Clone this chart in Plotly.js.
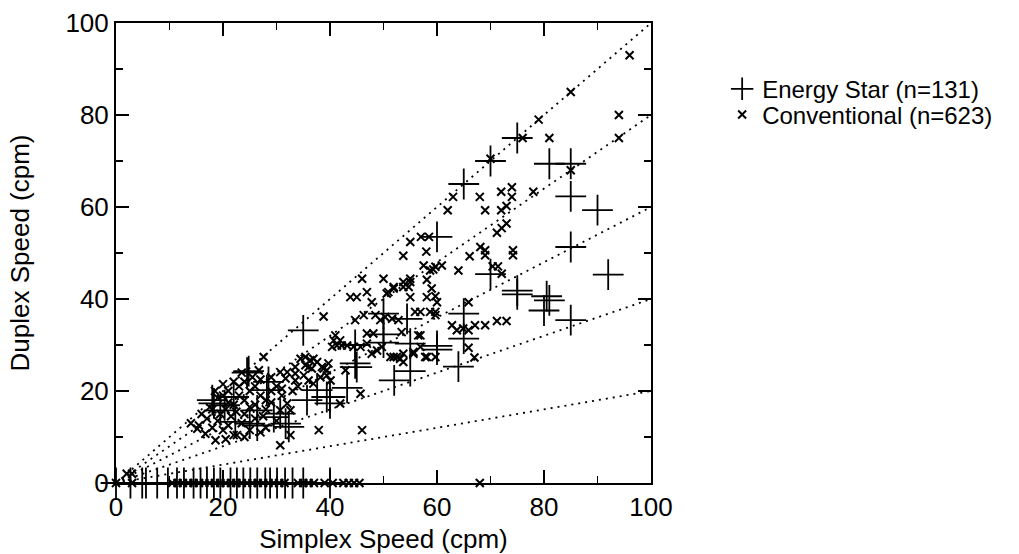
<!DOCTYPE html>
<html>
<head>
<meta charset="utf-8">
<script src="https://cdn.plot.ly/plotly-3.0.1.min.js"></script>
<style>html,body{margin:0;padding:0;background:#fff;}#chart{width:1019px;height:554px;}</style>
</head>
<body>
<div id="chart"></div>
<script>
// Reference ratio lines (duplex / simplex)
const ratioLines = [1.0, 0.8, 0.6, 0.4, 0.2];
const lineX = [0, 100];

// Energy Star printers (simplex cpm, duplex cpm)
const esSimplex = [75,70,65,60,81,85,85,90,85,92,70,75,75,80.5,81,80,85,65,65,64,60,60,55,54.4,55,52,50,50,50,44.7,44.7,45,43.2,40,40,35,35.7,37.6,39.4,31.7,30.7,29.5,28.5,28.2,26.4,26.4,25,24.8,24.5,22,22.3,20.3,19.5,18,18.3,32.3,
  0,2.7,4.9,5.6,7.7,9.7,11.4,12.7,14.5,15.8,17,18.3,19.5,21.4,22.6,23.8,25.1,26.4,27.9,28.8,30.1,31.6,33,35,40];
const esDuplex = [75,70,65,53.5,69.4,69.4,62.3,59.3,51.3,45.3,45.4,41.8,41,40.6,39.7,37.5,35.4,36.8,31.4,25.3,29.8,29,30.3,35.7,24.3,22.3,36.8,32.3,30.5,30,26,25.2,20.7,18.7,17.3,33.2,18,20.2,18.7,12.9,15.1,14.3,22,20.2,15.8,12.5,12.9,24.3,24,18.7,13.3,16.9,15.8,18,17.3,12.2,
  0,0,0,0,0,0,0,0,0,0,0,0,0,0,0,0,0,0,0,0,0,0,0,0,0];

// Conventional printers (simplex cpm, duplex cpm)
const convSimplex = [96,85,79,76,81,70,85,63,62,68,69,72,74,74,72,73,78,94,94,
  55,57,58.5,53.7,58,71.2,72.1,73,68.1,69,69,66.1,74.2,74.2,
  57.5,58.7,59.7,60.9,59.3,64,70.4,71.4,72.1,
  50,51.9,53.7,55,55,58.1,58.1,59,59.7,60,65.9,59.7,
  55.9,56.9,58.7,59.7,
  62.8,63.7,64.9,65.9,67.1,69,71.2,73,
  56.9,55.6,56.9,58.1,59.7,51.9,53.1,53.7,65.9,67,
  46,53.7,55,54.7,51.9,50.9,43.8,45,46.9,47.8,50.6,
  38.8,44.7,46.3,48.5,49.4,50.3,51.6,52.8,
  53.4,56.5,
  40.7,40.4,41.3,42.2,43.2,44.4,45.7,41,41.9,
  46.9,46.9,47.8,48.8,49.7,48.1,
  51.3,52.5,53.7,55.6,57.8,
  35.4,36.9,36,38.5,39.7,39.4,38.2,40.1,36.9,42.9,45.7,41.9,
  27.6,26.7,
  34.5,36.3,37.6,35.4,33.5,36.6,38.8,32,33.5,35.1,30.7,31.7,33.5,36,39.4,
  32.6,37.9,46,30.7,32,30.7,32.6,
  15.2,16.7,18.6,22,22.6,15.5,17,18,19,20,21,19.5,20.5,21.5,22.5,23.5,24,22,23,24,25,26,27,28,29,30,24,25.5,27,21,20,19,17.5,16,18.5,20,22,23.5,26,28,29,31,30,28,27,25,24,20.5,14,18,21,26,27.5,29,31,33,34,25,23,
  2,3,
  0,3,10.5,11.5,12.5,13.5,14.5,15.5,16.5,17.5,18.5,19.5,20.5,21.5,22.5,23.5,24.5,25.5,26.5,27.5,28.5,29.5,30.5,31.5,34,35,36,37,39,40.5,42.5,43.5,44.5,45.5,68];
const convDuplex = [93,85,79,75,75,70.5,68,62.2,59.3,62.2,59.3,63.3,64.3,62.2,59.3,60.2,63.3,80,75,
  52.4,53.5,53.5,49.4,50.3,54.4,55.4,56.4,51.3,50.6,49.5,49.3,50.6,49.5,
  47.3,46.2,47,47.3,46.4,46.2,47.1,47.1,45.5,
  44.4,42.3,42.6,43.7,40.4,44.2,40.4,42.3,40.6,39.3,39.3,37.2,
  37.2,37.2,37.2,36.5,
  34.3,33.2,33.6,33.2,34.3,34.3,35.2,35.2,
  32.1,28.5,29.6,27.4,27.4,27.4,27,26.3,29.4,27.3,
  44.4,43.7,44.4,42.6,42.6,41.5,40.4,40.4,41.5,39.3,41.2,
  36.2,35.4,36.5,36.5,35.4,36.1,35.7,35.4,
  32.8,32.1,
  31,29.6,29.9,29.9,29.9,29.6,29.6,32.1,31,
  32.5,30.3,28.1,28.8,29.6,32.5,
  27.4,27.4,28.1,28.1,27.4,
  27.4,27,25.2,25.2,26,24.5,23,22.3,21.6,24.5,19.4,17.3,
  27.4,24.5,
  27,26.7,26.3,25.6,25.2,24.9,24.9,24.1,23.8,23.4,24.1,22.7,22.3,22.3,23.4,
  10.4,11.5,11.5,8.2,17.3,15.8,15.8,
  11.8,10.7,9.3,10.4,10.4,12.5,14,12,13.5,11.5,12.5,15,16,14.5,15.5,13,15,17,19,18,20,21,19,18,20,21,22,23,22.5,20,19,18.5,16.5,15,20,21.5,22,24,17,16,17.5,19,13.5,12,11,11.5,10,9.5,13,16,17.5,14,14.5,23,20.5,20,21,16.5,21,
  2,2,
  0,0,0,0,0,0,0,0,0,0,0,0,0,0,0,0,0,0,0,0,0,0,0,0,0,0,0,0,0,0,0,0,0,0,0];

const legendNames = ['Energy Star (n=131)', 'Conventional (n=623)'];
const xTitle = 'Simplex Speed (cpm)';
const yTitle = 'Duplex Speed (cpm)';
const tickValues = [0, 20, 40, 60, 80, 100];

const FONT = 'Liberation Sans, Arial, Helvetica, sans-serif';
const FS = 26;
const LFS = 24;

const traces = ratioLines.map(r => ({
  x: lineX,
  y: lineX.map(v => v * r),
  mode: 'lines',
  line: {color: '#000', width: 1.8, dash: '2px,5px'},
  showlegend: false,
  hoverinfo: 'skip'
}));

traces.push({
  x: esSimplex, y: esDuplex, name: legendNames[0], legend: 'legend',
  mode: 'markers', cliponaxis: false,
  marker: {symbol: 'cross-thin-open', size: 22, color: '#000', line: {color: '#000', width: 1.8}}
});
traces.push({
  x: convSimplex, y: convDuplex, name: legendNames[1], legend: 'legend2',
  mode: 'markers', cliponaxis: false,
  marker: {symbol: 'x-thin-open', size: 8, color: '#000', line: {color: '#000', width: 2}}
});

const axisBase = {
  range: [0, 100],
  tickvals: tickValues,
  ticks: 'inside', ticklen: 13, tickwidth: 1.5, tickcolor: '#000',
  minor: {dtick: 10, ticks: 'inside', ticklen: 7, tickwidth: 1.5, tickcolor: '#000', showgrid: false},
  showline: true, linecolor: '#000', linewidth: 2, mirror: 'allticks',
  showgrid: false, zeroline: false,
  tickfont: {family: FONT, size: FS, color: '#000'},
  fixedrange: true
};

const legendBase = {
  x: 1.133, xanchor: 'left', yanchor: 'top',
  font: {family: FONT, size: LFS, color: '#000'},
  bgcolor: 'rgba(0,0,0,0)', borderwidth: 0
};

const layout = {
  width: 1019, height: 554,
  margin: {l: 116, r: 368, t: 23, b: 71, pad: 0, autoexpand: false},
  paper_bgcolor: '#fff', plot_bgcolor: '#fff',
  font: {family: FONT, size: FS, color: '#000'},
  xaxis: Object.assign({}, axisBase, {
    title: {text: xTitle, font: {family: FONT, size: FS, color: '#000'}, standoff: 14}
  }),
  yaxis: Object.assign({}, axisBase, {
    title: {text: yTitle, font: {family: FONT, size: FS, color: '#000'}, standoff: 28}
  }),
  legend: Object.assign({}, legendBase, {y: 0.905}),
  legend2: Object.assign({}, legendBase, {y: 0.849}),
  showlegend: true
};

Plotly.newPlot('chart', traces, layout, {staticPlot: true, displayModeBar: false});
</script>
</body>
</html>
